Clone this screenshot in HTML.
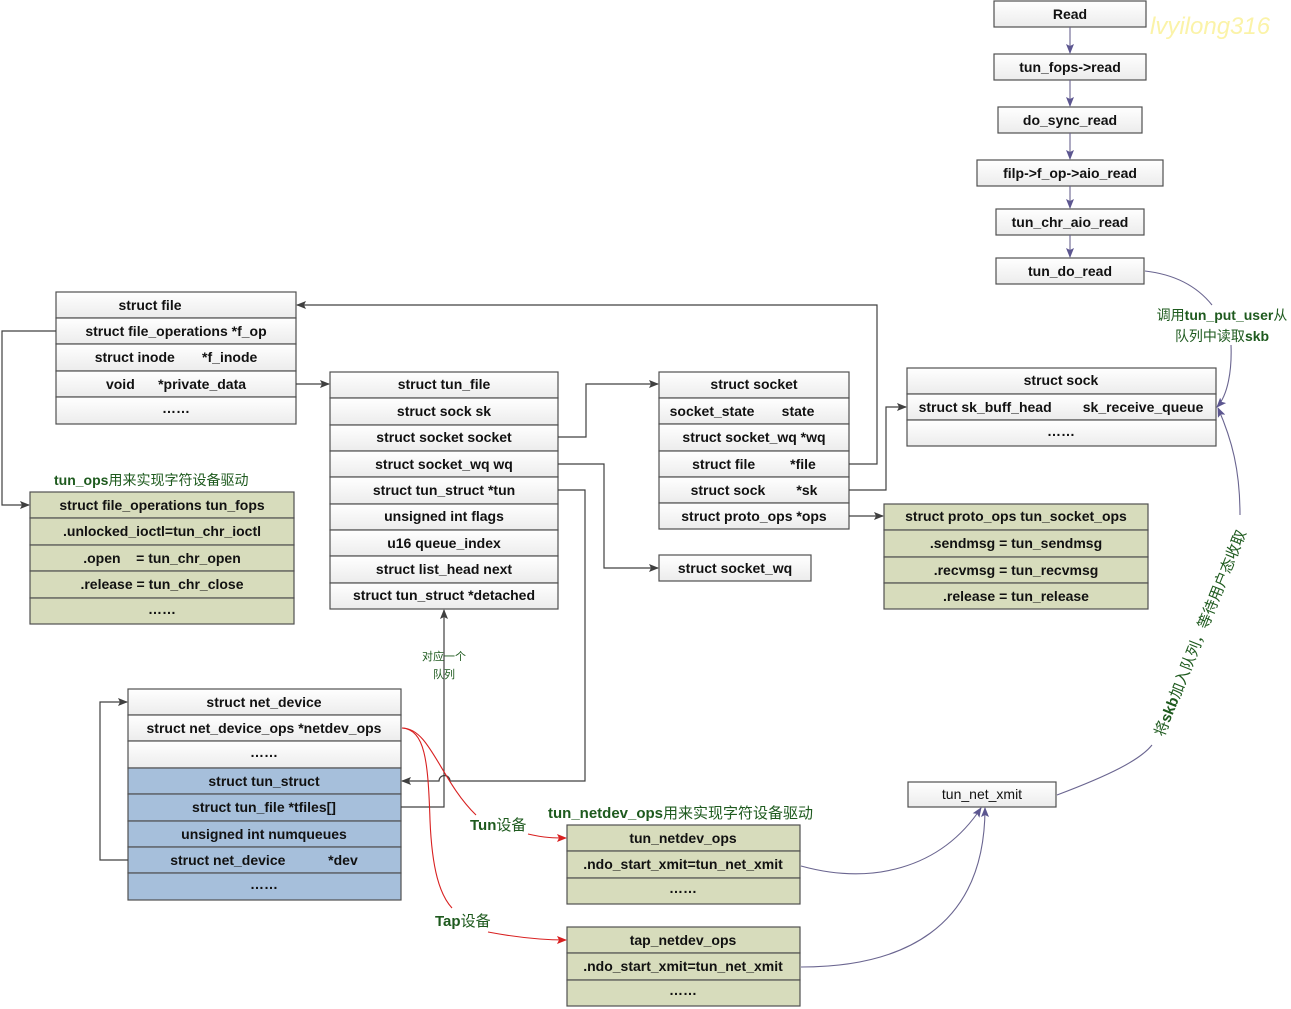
<!DOCTYPE html>
<html><head><meta charset="utf-8"><style>
html,body{margin:0;padding:0;background:#fff;}
svg{display:block;}
text{font-family:"Liberation Sans","Noto Sans CJK SC",sans-serif;font-size:14px;font-weight:bold;fill:#111;}
.w{fill:url(#gw);stroke:#505050;stroke-width:1.2;}
.gr{fill:#d7dcbc;stroke:#505050;stroke-width:1.2;}
.bl{fill:#a6bfdb;stroke:#505050;stroke-width:1.2;}
.ln{fill:none;stroke:#404040;stroke-width:1.2;}
.pl{fill:none;stroke:#6a6590;stroke-width:1.1;}
.rd{fill:none;stroke:#d82020;stroke-width:1.1;}
.lab{fill:#1e5a1e;}
</style></head><body>
<svg width="1291" height="1009" viewBox="0 0 1291 1009" xmlns="http://www.w3.org/2000/svg">
<defs>
<linearGradient id="gw" x1="0" y1="0" x2="0" y2="1"><stop offset="0" stop-color="#ffffff"/><stop offset="1" stop-color="#ececec"/></linearGradient>
<marker id="ab" markerWidth="10" markerHeight="8" refX="9" refY="4" orient="auto" markerUnits="userSpaceOnUse"><path d="M0,0 L10,4 L0,8 L2,4z" fill="#404040"/></marker>
<marker id="ap" markerWidth="10" markerHeight="8" refX="9" refY="4" orient="auto" markerUnits="userSpaceOnUse"><path d="M0,0 L10,4 L0,8 L2,4z" fill="#5c5690"/></marker>
<marker id="ar" markerWidth="10" markerHeight="8" refX="9" refY="4" orient="auto" markerUnits="userSpaceOnUse"><path d="M0,0 L10,4 L0,8 L2,4z" fill="#d82020"/></marker>
</defs>

<text x="1150" y="34" style="font-size:24px;font-style:italic;font-weight:normal;fill:#fbf3a8">lvyilong316</text>

<g text-anchor="middle">
<rect class="w" x="994" y="1" width="152" height="26"/><text x="1070" y="19">Read</text>
<rect class="w" x="994" y="54" width="152" height="26"/><text x="1070" y="72">tun_fops-&gt;read</text>
<rect class="w" x="998" y="107" width="144" height="26"/><text x="1070" y="125">do_sync_read</text>
<rect class="w" x="977" y="160" width="186" height="26"/><text x="1070" y="178">filp-&gt;f_op-&gt;aio_read</text>
<rect class="w" x="996" y="209" width="148" height="26"/><text x="1070" y="227">tun_chr_aio_read</text>
<rect class="w" x="996" y="258" width="148" height="26"/><text x="1070" y="276">tun_do_read</text>
</g>
<path class="pl" d="M1070,27V53" marker-end="url(#ap)"/>
<path class="pl" d="M1070,80V106" marker-end="url(#ap)"/>
<path class="pl" d="M1070,133V159" marker-end="url(#ap)"/>
<path class="pl" d="M1070,186V208" marker-end="url(#ap)"/>
<path class="pl" d="M1070,235V257" marker-end="url(#ap)"/>

<g text-anchor="middle">
<rect class="w" x="56" y="292" width="240" height="26"/><text x="150" y="310">struct file</text>
<rect class="w" x="56" y="318" width="240" height="26"/><text x="176" y="336">struct file_operations *f_op</text>
<rect class="w" x="56" y="344" width="240" height="27"/><text x="176" y="362">struct inode&#160;&#160;&#160;&#160;&#160;&#160;&#160;*f_inode</text>
<rect class="w" x="56" y="371" width="240" height="26"/><text x="176" y="389">void&#160;&#160;&#160;&#160;&#160;&#160;*private_data</text>
<rect class="w" x="56" y="397" width="240" height="27"/><text x="176" y="413">……</text>
</g>

<text class="lab" x="54" y="485" style="font-size:14px">tun_ops<tspan style="font-weight:normal">用来实现字符设备驱动</tspan></text>
<g text-anchor="middle">
<rect class="gr" x="30" y="492" width="264" height="26"/><text x="162" y="510">struct file_operations tun_fops</text>
<rect class="gr" x="30" y="518" width="264" height="27"/><text x="162" y="536">.unlocked_ioctl=tun_chr_ioctl</text>
<rect class="gr" x="30" y="545" width="264" height="26"/><text x="162" y="563">.open&#160;&#160;&#160;&#160;= tun_chr_open</text>
<rect class="gr" x="30" y="571" width="264" height="27"/><text x="162" y="589">.release = tun_chr_close</text>
<rect class="gr" x="30" y="598" width="264" height="26"/><text x="162" y="614">……</text>
</g>

<g text-anchor="middle">
<rect class="w" x="330" y="372" width="228" height="26"/><text x="444" y="389">struct tun_file</text>
<rect class="w" x="330" y="398" width="228" height="27"/><text x="444" y="416">struct sock sk</text>
<rect class="w" x="330" y="425" width="228" height="26"/><text x="444" y="442">struct socket socket</text>
<rect class="w" x="330" y="451" width="228" height="26"/><text x="444" y="469">struct socket_wq wq</text>
<rect class="w" x="330" y="477" width="228" height="27"/><text x="444" y="495">struct tun_struct *tun</text>
<rect class="w" x="330" y="504" width="228" height="26"/><text x="444" y="521">unsigned int flags</text>
<rect class="w" x="330" y="530" width="228" height="26"/><text x="444" y="548">u16 queue_index</text>
<rect class="w" x="330" y="556" width="228" height="27"/><text x="444" y="574">struct list_head next</text>
<rect class="w" x="330" y="583" width="228" height="26"/><text x="444" y="600">struct tun_struct *detached</text>
</g>

<g text-anchor="middle">
<rect class="w" x="659" y="372" width="190" height="26"/><text x="754" y="389">struct socket</text>
<rect class="w" x="659" y="398" width="190" height="26"/><text x="742" y="416">socket_state&#160;&#160;&#160;&#160;&#160;&#160;&#160;state</text>
<rect class="w" x="659" y="424" width="190" height="27"/><text x="754" y="442">struct socket_wq *wq</text>
<rect class="w" x="659" y="451" width="190" height="26"/><text x="754" y="469">struct file&#160;&#160;&#160;&#160;&#160;&#160;&#160;&#160;&#160;*file</text>
<rect class="w" x="659" y="477" width="190" height="26"/><text x="754" y="495">struct sock&#160;&#160;&#160;&#160;&#160;&#160;&#160;&#160;*sk</text>
<rect class="w" x="659" y="503" width="190" height="26"/><text x="754" y="521">struct proto_ops *ops</text>
<rect class="w" x="659" y="555" width="152" height="26"/><text x="735" y="573">struct socket_wq</text>
</g>

<g text-anchor="middle">
<rect class="w" x="907" y="368" width="309" height="26"/><text x="1061" y="385">struct sock</text>
<rect class="w" x="907" y="394" width="309" height="26"/><text x="1061" y="412">struct sk_buff_head&#160;&#160;&#160;&#160;&#160;&#160;&#160;&#160;sk_receive_queue</text>
<rect class="w" x="907" y="420" width="309" height="26"/><text x="1061" y="436">……</text>
</g>

<g text-anchor="middle">
<rect class="gr" x="884" y="504" width="264" height="26"/><text x="1016" y="521">struct proto_ops tun_socket_ops</text>
<rect class="gr" x="884" y="530" width="264" height="27"/><text x="1016" y="548">.sendmsg = tun_sendmsg</text>
<rect class="gr" x="884" y="557" width="264" height="26"/><text x="1016" y="575">.recvmsg = tun_recvmsg</text>
<rect class="gr" x="884" y="583" width="264" height="26"/><text x="1016" y="601">.release = tun_release</text>
</g>

<g text-anchor="middle">
<rect class="w" x="128" y="689" width="273" height="26"/><text x="264" y="707">struct net_device</text>
<rect class="w" x="128" y="715" width="273" height="26"/><text x="264" y="733">struct net_device_ops *netdev_ops</text>
<rect class="w" x="128" y="741" width="273" height="27"/><text x="264" y="757">……</text>
<rect class="bl" x="128" y="768" width="273" height="26"/><text x="264" y="786">struct tun_struct</text>
<rect class="bl" x="128" y="794" width="273" height="27"/><text x="264" y="812">struct tun_file *tfiles[]</text>
<rect class="bl" x="128" y="821" width="273" height="26"/><text x="264" y="839">unsigned int numqueues</text>
<rect class="bl" x="128" y="847" width="273" height="26"/><text x="264" y="865">struct net_device&#160;&#160;&#160;&#160;&#160;&#160;&#160;&#160;&#160;&#160;&#160;*dev</text>
<rect class="bl" x="128" y="873" width="273" height="27"/><text x="264" y="889">……</text>
</g>

<text class="lab" x="548" y="818" style="font-size:15px">tun_netdev_ops<tspan style="font-weight:normal">用来实现字符设备驱动</tspan></text>
<g text-anchor="middle">
<rect class="gr" x="567" y="825" width="233" height="26"/><text x="683" y="843">tun_netdev_ops</text>
<rect class="gr" x="567" y="851" width="233" height="27"/><text x="683" y="869">.ndo_start_xmit=tun_net_xmit</text>
<rect class="gr" x="567" y="878" width="233" height="26"/><text x="683" y="893">……</text>
<rect class="gr" x="567" y="927" width="233" height="26"/><text x="683" y="945">tap_netdev_ops</text>
<rect class="gr" x="567" y="953" width="233" height="27"/><text x="683" y="971">.ndo_start_xmit=tun_net_xmit</text>
<rect class="gr" x="567" y="980" width="233" height="26"/><text x="683" y="995">……</text>
<rect class="w" x="908" y="782" width="148" height="25"/><text x="982" y="799" style="font-weight:normal">tun_net_xmit</text>
</g>

<path class="ln" d="M56,331H2V505H29" marker-end="url(#ab)"/>
<path class="ln" d="M296,384H329" marker-end="url(#ab)"/>
<path class="ln" d="M558,437H586V384H658" marker-end="url(#ab)"/>
<path class="ln" d="M558,464H604V568H658" marker-end="url(#ab)"/>
<path class="ln" d="M558,490H585V781H450A5,5 0 0 0 439,781H402" marker-end="url(#ab)"/>
<path class="ln" d="M849,464H877V305H297" marker-end="url(#ab)"/>
<path class="ln" d="M849,490H886V407H906" marker-end="url(#ab)"/>
<path class="ln" d="M849,516H883" marker-end="url(#ab)"/>
<path class="ln" d="M128,860H100V702H127" marker-end="url(#ab)"/>
<path class="ln" d="M401,807H444V610" marker-end="url(#ab)"/>
<text x="444" y="660" text-anchor="middle" class="lab" style="font-size:11px;font-weight:normal">对应一个</text>
<text x="444" y="678" text-anchor="middle" class="lab" style="font-size:11px;font-weight:normal">队列</text>

<path class="rd" d="M402,728C430,728 440,780 476,815"/>
<path class="rd" d="M402,728C425,730 428,760 430,820C432,870 440,895 452,908"/>
<path class="rd" d="M528,834C545,838 555,838 566,838" marker-end="url(#ar)"/>
<path class="rd" d="M488,932C520,938 545,940 566,940" marker-end="url(#ar)"/>
<text class="lab" x="470" y="830" style="font-size:15px">Tun<tspan style="font-weight:normal">设备</tspan></text>
<text class="lab" x="435" y="926" style="font-size:15px">Tap<tspan style="font-weight:normal">设备</tspan></text>

<path class="pl" d="M1145,271C1180,275 1200,290 1212,305"/>
<path class="pl" d="M1231,345C1232,370 1228,395 1217,407" marker-end="url(#ap)"/>
<text class="lab" x="1222" y="320" text-anchor="middle" style="font-size:14px;font-weight:normal">调用<tspan font-weight="bold">tun_put_user</tspan>从</text>
<text class="lab" x="1222" y="341" text-anchor="middle" style="font-size:14px;font-weight:normal">队列中读取<tspan font-weight="bold">skb</tspan></text>
<path class="pl" d="M1057,795C1110,775 1140,760 1152,745"/>
<path class="pl" d="M1240,515C1240,470 1232,440 1218,408" marker-end="url(#ap)"/>
<text class="lab" transform="translate(1205,635) rotate(-68)" text-anchor="middle" style="font-size:15px;font-weight:normal">将<tspan font-weight="bold">skb</tspan>加入队列，等待用户态收取</text>
<path class="pl" d="M801,866C870,885 940,870 981,808" marker-end="url(#ap)"/>
<path class="pl" d="M801,967C900,967 985,930 985,808" marker-end="url(#ap)"/>
</svg>
</body></html>
